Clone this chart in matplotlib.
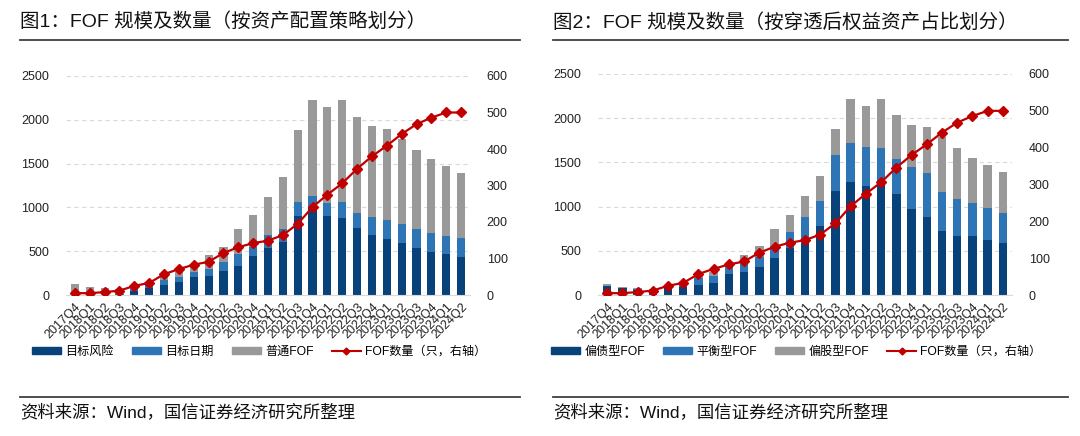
import matplotlib
matplotlib.use("Agg")
import matplotlib.pyplot as plt
from matplotlib.lines import Line2D
from matplotlib.patches import Patch
import numpy as np

plt.rcParams['font.family'] = ['Liberation Sans', 'Noto Sans CJK SC']

quarters = ['2017Q4', '2018Q1', '2018Q2', '2018Q3', '2018Q4', '2019Q1', '2019Q2',
            '2019Q3', '2019Q4', '2020Q1', '2020Q2', '2020Q3', '2020Q4', '2021Q1',
            '2021Q2', '2021Q3', '2021Q4', '2022Q1', '2022Q2', '2022Q3', '2022Q4',
            '2023Q1', '2023Q2', '2023Q3', '2023Q4', '2024Q1', '2024Q2']

# FOF count (right axis), same in both panels
fof_count = [5, 5, 8, 12, 25, 33, 57, 71, 83, 91, 115, 131, 142, 149, 164, 195,
             241, 275, 306, 346, 380, 409, 441, 468, 486, 500, 500]

# fig 1: by allocation strategy
target_risk = [0, 0, 0, 5, 45, 75, 110, 145, 200, 222, 270, 335, 448, 540, 602, 897,
               990, 897, 874, 768, 687, 637, 592, 534, 488, 469, 439]
target_date = [0, 0, 0, 5, 25, 35, 60, 57, 62, 75, 103, 130, 100, 150, 153, 168,
               145, 153, 183, 172, 199, 222, 213, 222, 218, 210, 206]
ordinary = [125, 91, 76, 55, 20, 15, 40, 58, 70, 158, 179, 285, 360, 425, 589, 817,
            1086, 1091, 1164, 1091, 1042, 1038, 981, 904, 847, 791, 748]

# fig 2: by look-through equity share
bond_heavy = [100, 76, 60, 50, 75, 95, 115, 140, 232, 262, 312, 420, 528, 593, 775, 1177,
              1275, 1230, 1240, 1140, 972, 886, 725, 662, 662, 624, 587]
balanced = [5, 3, 3, 5, 10, 20, 74, 75, 80, 97, 123, 113, 186, 284, 293, 408,
            441, 441, 423, 393, 478, 490, 441, 422, 377, 363, 340]
equity_heavy = [20, 12, 13, 10, 5, 10, 21, 45, 20, 96, 117, 217, 194, 238, 276, 297,
                505, 470, 558, 498, 478, 521, 620, 576, 514, 483, 466]

DARK = '#07427A'
BLUE = '#2E75B6'
GRAY = '#999999'
RED = '#C00000'

W, H = 1080, 436
fig = plt.figure(figsize=(W / 100, H / 100), dpi=100)


def draw_panel(x0, x1, title, series, names, axes_box):
    # title + rules + source
    fig.text(x0 / W, 1 - 22 / H, title, fontsize=14, va='center', ha='left', color='#111111')
    fig.add_artist(Line2D([x0 / W, x1 / W], [1 - 40 / H, 1 - 40 / H],
                          transform=fig.transFigure, color='#404040', lw=1.3))
    fig.add_artist(Line2D([x0 / W, x1 / W], [1 - 397 / H, 1 - 397 / H],
                          transform=fig.transFigure, color='#404040', lw=1.3))
    fig.text(x0 / W, 1 - 412 / H, '资料来源：Wind，国信证券经济研究所整理', fontsize=12.5,
             va='center', ha='left', color='#111111')

    ax = fig.add_axes(axes_box)
    x = np.arange(len(quarters))
    bottom = np.zeros(len(quarters))
    for vals, col in zip(series, [DARK, BLUE, GRAY]):
        ax.bar(x, vals, 0.55, bottom=bottom, color=col, zorder=2)
        bottom += np.array(vals)
    ax.set_ylim(0, 2500)
    ax.set_yticks(range(0, 2501, 500))
    ax.set_xlim(-0.6, len(quarters) - 0.4)
    ax.set_xticks(x)
    ax.set_xticklabels(quarters, rotation=45, ha='right', rotation_mode='anchor', fontsize=8.5)
    ax.grid(axis='y', color='#D9D9D9', ls=(0, (4, 3)), lw=0.8, zorder=0)
    for s in ['top', 'right', 'left']:
        ax.spines[s].set_visible(False)
    ax.spines['bottom'].set_color('#D9D9D9')
    ax.tick_params(length=0, labelsize=9, colors='#222222', pad=4)
    ax.tick_params(axis='y', pad=12)

    ax2 = ax.twinx()
    ax2.plot(x, fof_count, color=RED, lw=1.6, marker='D', ms=5, zorder=3)
    ax2.set_ylim(0, 600)
    ax2.set_yticks(range(0, 601, 100))
    for s in ax2.spines.values():
        s.set_visible(False)
    ax2.tick_params(length=0, labelsize=9, colors='#222222', pad=12)

    handles = [Patch(color=DARK), Patch(color=BLUE), Patch(color=GRAY),
               Line2D([], [], color=RED, lw=1.5, marker='D', ms=3.5)]
    cx = axes_box[0] + axes_box[2] / 2
    fig.legend(handles, names + ['FOF数量（只，右轴）'], loc='center', ncol=4,
               bbox_to_anchor=(cx - 0.008, 1 - 352 / H), frameon=False, fontsize=8.7,
               handlelength=2.4, handleheight=0.5, columnspacing=1.5, handletextpad=0.35)


draw_panel(20, 520, '图1：FOF 规模及数量（按资产配置策略划分）',
           [target_risk, target_date, ordinary], ['目标风险', '目标日期', '普通FOF'],
           [66 / W, 1 - 295 / H, 404 / W, 219 / H])
draw_panel(553, 1068, '图2：FOF 规模及数量（按穿透后权益资产占比划分）',
           [bond_heavy, balanced, equity_heavy], ['偏债型FOF', '平衡型FOF', '偏股型FOF'],
           [598 / W, 1 - 295 / H, 414 / W, 221 / H])

fig.savefig('out.png', dpi=100)
